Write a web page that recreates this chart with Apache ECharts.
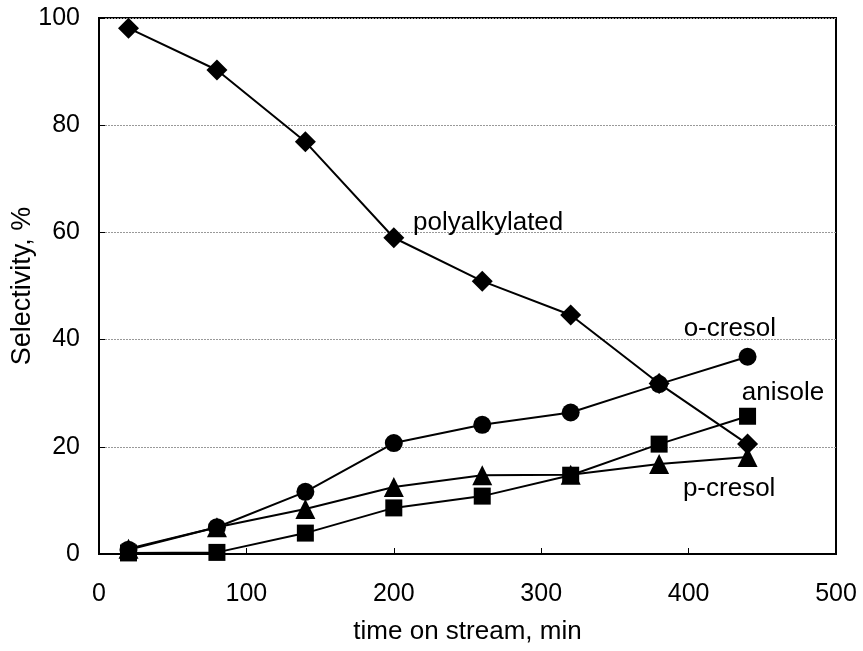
<!DOCTYPE html>
<html>
<head>
<meta charset="utf-8">
<script src="https://cdn.jsdelivr.net/npm/echarts@6/dist/echarts.min.js"></script>
<style>html,body{margin:0;padding:0;background:#fff}#c{width:863px;height:651px}</style>
</head>
<body>
<div id="c"></div>
<script>
// time on stream, min
const times = [20, 80, 140, 200, 260, 320, 380, 440];
// selectivity, %
const polyalkylated = [98.1, 90.3, 76.9, 59.0, 50.9, 44.6, 31.8, 20.5];
const oCresol = [0.8, 5.0, 11.6, 20.7, 24.1, 26.4, 31.7, 36.8];
const anisole = [0.2, 0.3, 3.9, 8.6, 10.8, 14.7, 20.5, 25.7];
const pCresol = [1.0, 5.0, 8.4, 12.5, 14.7, 14.8, 16.8, 18.1];

const xTicks = [0, 100, 200, 300, 400, 500];
const yTicks = [0, 20, 40, 60, 80, 100];

// series name, values, marker, marker size, label anchor (data coords)
const seriesDefs = [
  { name: 'polyalkylated', data: polyalkylated, symbol: 'diamond', size: 21, labelAt: [264, 61.8] },
  { name: 'o-cresol', data: oCresol, symbol: 'circle', size: 18, labelAt: [428, 42.0] },
  { name: 'anisole', data: anisole, symbol: 'rect', size: 17, labelAt: [464, 30.0] },
  { name: 'p-cresol', data: pCresol, symbol: 'triangle', size: 20, labelAt: [427.5, 12.1] }
];

const font = 'Liberation Sans, Arial, sans-serif';
const chart = echarts.init(document.getElementById('c'), null, { renderer: 'canvas' });

chart.setOption({
  animation: false,
  backgroundColor: '#fff',
  grid: {
    left: 99, right: 27, top: 18, bottom: 97,
    containLabel: false, outerBoundsMode: 'none',
    show: true, borderColor: '#000', borderWidth: 2, backgroundColor: 'transparent'
  },
  xAxis: {
    type: 'value', min: 0, max: 500, interval: 100,
    name: 'time on stream, min', nameLocation: 'middle', nameGap: 65, nameMoveOverlap: false,
    nameTextStyle: { fontFamily: font, fontSize: 26, color: '#000' },
    axisLine: { show: true, lineStyle: { color: '#000', width: 2 } },
    axisTick: { show: true, inside: true, length: 6, lineStyle: { color: '#000', width: 1 } },
    axisLabel: { fontFamily: font, fontSize: 25, color: '#000', margin: 28,
      formatter: v => xTicks.includes(v) ? String(v) : '' },
    splitLine: { show: false }
  },
  yAxis: {
    type: 'value', min: 0, max: 100, interval: 20,
    name: 'Selectivity, %', nameLocation: 'middle', nameGap: 63, nameMoveOverlap: false,
    nameTextStyle: { fontFamily: font, fontSize: 27, color: '#000' },
    axisLine: { show: true, lineStyle: { color: '#000', width: 2 } },
    axisTick: { show: true, inside: true, length: 6, lineStyle: { color: '#000', width: 1 } },
    axisLabel: { fontFamily: font, fontSize: 25, color: '#000', margin: 19,
      formatter: v => yTicks.includes(v) ? String(v) : '' },
    splitLine: { show: true, lineStyle: { color: '#999', width: 1, type: [2, 1] } }
  },
  series: seriesDefs.map(d => ({
    name: d.name,
    type: 'line',
    data: times.map((t, i) => [t, d.data[i]]),
    symbol: d.symbol,
    symbolSize: d.size,
    showAllSymbol: true,
    lineStyle: { color: '#000', width: 2 },
    itemStyle: { color: '#000' },
    markPoint: {
      symbol: 'circle', symbolSize: 0,
      data: [{ coord: d.labelAt, value: d.name }],
      label: { show: true, position: 'inside', formatter: d.name, fontFamily: font, fontSize: 26, color: '#000' }
    }
  }))
});
</script>
</body>
</html>
